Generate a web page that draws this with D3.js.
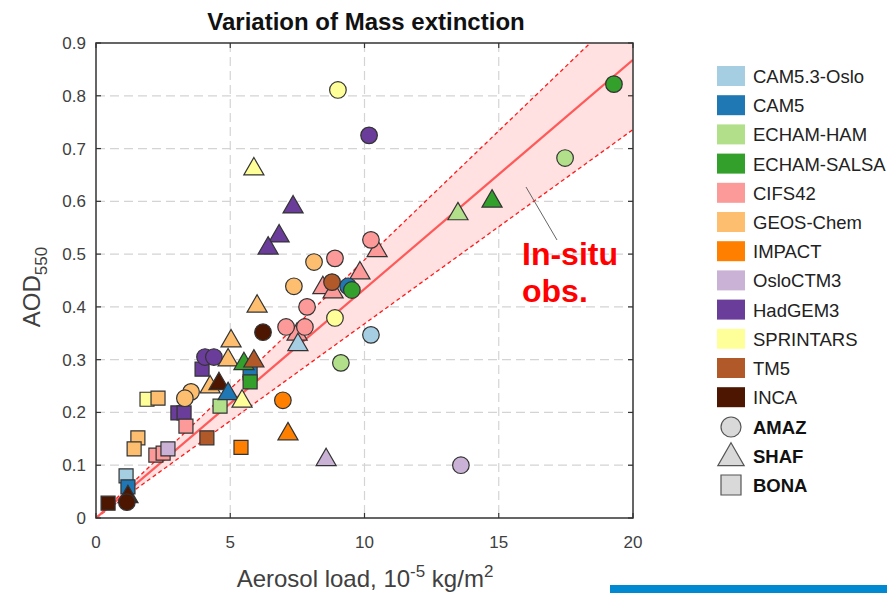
<!DOCTYPE html>
<html><head><meta charset="utf-8">
<script src="https://cdn.jsdelivr.net/npm/d3@7"></script>
<style>body{margin:0;background:#fff}svg{display:block;font-family:"Liberation Sans",Arial,sans-serif}</style>
</head><body>
<svg id="c" width="887" height="593"></svg>
<script>
const models = ["CAM5.3-Oslo","CAM5","ECHAM-HAM","ECHAM-SALSA","CIFS42","GEOS-Chem","IMPACT","OsloCTM3","HadGEM3","SPRINTARS","TM5","INCA"];
const modelColors = ["#a6cee3","#1f78b4","#b2df8a","#33a02c","#fb9a99","#fdbf6f","#ff7f00","#cab2d6","#6a3d9a","#ffff99","#b15928","#4d1600"];
const regions = ["AMAZ","SHAF","BONA"];
const xTicks = [0,5,10,15,20];
const yTicks = [0,0.1,0.2,0.3,0.4,0.5,0.6,0.7,0.8,0.9];
// slopes of in-situ observation fit (AOD per 10^-5 kg/m2): central, upper, lower
const obsSlope = [0.0434, 0.0489, 0.0368];

// [model, aerosol load, AOD]
const amaz = [
 ["SPRINTARS",9.01,0.811],["HadGEM3",10.17,0.725],["CIFS42",10.24,0.527],["GEOS-Chem",8.12,0.485],
 ["CIFS42",8.90,0.492],["TM5",8.79,0.447],["CAM5",9.39,0.439],["ECHAM-SALSA",9.53,0.432],
 ["GEOS-Chem",7.37,0.439],["CIFS42",7.86,0.400],["SPRINTARS",8.90,0.379],["INCA",6.22,0.352],
 ["CIFS42",7.08,0.362],["CIFS42",7.78,0.362],["CAM5.3-Oslo",10.24,0.347],["ECHAM-HAM",9.12,0.294],
 ["HadGEM3",4.06,0.305],["HadGEM3",4.39,0.305],["GEOS-Chem",3.54,0.239],["GEOS-Chem",3.31,0.227],
 ["IMPACT",6.96,0.223],["OsloCTM3",13.59,0.100],["ECHAM-HAM",17.47,0.682],["ECHAM-SALSA",19.29,0.822],
 ["INCA",1.15,0.030]
];
const shaf = [
 ["SPRINTARS",5.88,0.663],["HadGEM3",7.34,0.591],["HadGEM3",6.82,0.536],["HadGEM3",6.41,0.513],
 ["CIFS42",10.47,0.508],["CIFS42",9.83,0.466],["CIFS42",8.45,0.438],["CIFS42",8.83,0.430],
 ["CIFS42",7.49,0.350],["CAM5.3-Oslo",7.52,0.330],["GEOS-Chem",6.00,0.403],["GEOS-Chem",5.03,0.337],
 ["GEOS-Chem",4.92,0.301],["ECHAM-SALSA",5.51,0.294],["TM5",5.88,0.299],["GEOS-Chem",4.25,0.250],
 ["INCA",4.58,0.256],["CAM5",4.92,0.237],["SPRINTARS",5.44,0.223],["IMPACT",7.15,0.161],
 ["OsloCTM3",8.57,0.112],["ECHAM-SALSA",14.75,0.602],["ECHAM-HAM",13.48,0.578],["INCA",1.19,0.042]
];
const bona = [
 ["HadGEM3",3.95,0.282],["CAM5",5.74,0.275],["ECHAM-SALSA",5.74,0.258],["ECHAM-HAM",4.62,0.212],
 ["HadGEM3",3.05,0.199],["HadGEM3",3.28,0.199],["CIFS42",3.35,0.174],["SPRINTARS",1.90,0.225],
 ["GEOS-Chem",2.31,0.227],["GEOS-Chem",1.56,0.152],["GEOS-Chem",1.42,0.131],["CIFS42",2.23,0.119],
 ["CIFS42",2.50,0.123],["OsloCTM3",2.68,0.131],["TM5",4.13,0.152],["IMPACT",5.40,0.134],
 ["CAM5.3-Oslo",1.12,0.080],["CAM5",1.19,0.059],["INCA",0.45,0.028]
];

const svg = d3.select("#c");
const L = 96, T = 43, W = 537, H = 475;
const x = d3.scaleLinear().domain([0,20]).range([L, L+W]);
const y = d3.scaleLinear().domain([0,0.9]).range([T+H, T]);
const color = d3.scaleOrdinal().domain(models).range(modelColors);

svg.append("defs").append("clipPath").attr("id","clip")
  .append("rect").attr("x",L).attr("y",T).attr("width",W).attr("height",H);

// grid
const g = svg.append("g");
g.selectAll(".vg").data(xTicks.slice(1,-1)).join("line")
  .attr("x1",d=>x(d)).attr("x2",d=>x(d)).attr("y1",T).attr("y2",T+H)
  .attr("stroke","#d4d4d4").attr("stroke-width",1.2).attr("stroke-dasharray","9,5");
g.selectAll(".hg").data(yTicks.slice(1,-1)).join("line")
  .attr("y1",d=>y(d)).attr("y2",d=>y(d)).attr("x1",L).attr("x2",L+W)
  .attr("stroke","#d4d4d4").attr("stroke-width",1.2).attr("stroke-dasharray","9,5");

// obs band and lines
const band = svg.append("g").attr("clip-path","url(#clip)");
const xs = [0, 20];
band.append("path")
  .attr("d", d3.area().x(d=>x(d)).y0(d=>y(d*obsSlope[2])).y1(d=>y(d*obsSlope[1]))(xs))
  .attr("fill","#ffe1e1");
band.append("path").attr("d", d3.line().x(d=>x(d)).y(d=>y(d*obsSlope[1]))(xs))
  .attr("stroke","#ff1a1a").attr("stroke-width",1.3).attr("stroke-dasharray","4,3").attr("fill","none");
band.append("path").attr("d", d3.line().x(d=>x(d)).y(d=>y(d*obsSlope[2]))(xs))
  .attr("stroke","#ff1a1a").attr("stroke-width",1.3).attr("stroke-dasharray","4,3").attr("fill","none");
band.append("path").attr("d", d3.line().x(d=>x(d)).y(d=>y(d*obsSlope[0]))(xs))
  .attr("stroke","#ff5a5a").attr("stroke-width",2.2).attr("fill","none");

// markers
const mk = svg.append("g");
const sym = {
  AMAZ: d3.symbol().type(d3.symbolCircle).size(Math.PI*8.3*8.3),
  SHAF: d3.symbol().type(d3.symbolTriangle).size(175),
  BONA: d3.symbol().type(d3.symbolSquare).size(14*14)
};
function drawSet(data, reg, dy){
  mk.selectAll(null).data(data).join("path")
    .attr("d", sym[reg]())
    .attr("transform", d=>`translate(${x(d[1])},${y(d[2])+dy})`)
    .attr("fill", d=>color(d[0])).attr("stroke","#333").attr("stroke-width",1.2);
}
drawSet(bona,"BONA",0);
drawSet(shaf,"SHAF",1);
drawSet(amaz,"AMAZ",0);

// frame and ticks
svg.append("rect").attr("x",L).attr("y",T).attr("width",W).attr("height",H)
  .attr("fill","none").attr("stroke","#333").attr("stroke-width",1.5);
const tk = svg.append("g").attr("stroke","#333").attr("stroke-width",1.2);
xTicks.forEach(v=>{
  tk.append("line").attr("x1",x(v)).attr("x2",x(v)).attr("y1",T+H).attr("y2",T+H-5);
  tk.append("line").attr("x1",x(v)).attr("x2",x(v)).attr("y1",T).attr("y2",T+5);
});
yTicks.forEach(v=>{
  tk.append("line").attr("y1",y(v)).attr("y2",y(v)).attr("x1",L).attr("x2",L+5);
  tk.append("line").attr("y1",y(v)).attr("y2",y(v)).attr("x1",L+W).attr("x2",L+W-5);
});
svg.append("g").selectAll("text").data(xTicks).join("text")
  .attr("x",d=>x(d)).attr("y",548).attr("text-anchor","middle")
  .attr("font-size",17).attr("fill","#404040").text(d=>d);
svg.append("g").selectAll("text").data(yTicks).join("text")
  .attr("x",86).attr("y",d=>y(d)+6).attr("text-anchor","end")
  .attr("font-size",17).attr("fill","#404040").text(d=>d===0?"0":d3.format(".1f")(d));

// title & labels
svg.append("text").attr("x",366).attr("y",30).attr("text-anchor","middle")
  .attr("font-size",24).attr("font-weight","bold").attr("fill","#111").text("Variation of Mass extinction");
const xl = svg.append("text").attr("x",365).attr("y",587).attr("text-anchor","middle")
  .attr("font-size",24).attr("fill","#404040");
xl.append("tspan").text("Aerosol load, 10");
xl.append("tspan").attr("dy",-10).attr("font-size",17).text("-5");
xl.append("tspan").attr("dy",10).text(" kg/m");
xl.append("tspan").attr("dy",-10).attr("font-size",17).text("2");
const yl = svg.append("text").attr("transform","translate(40,287) rotate(-90)").attr("text-anchor","middle")
  .attr("font-size",24).attr("fill","#404040");
yl.append("tspan").text("AOD");
yl.append("tspan").attr("dy",7).attr("font-size",17).text("550");

// annotation
svg.append("line").attr("x1",526).attr("y1",187).attr("x2",557).attr("y2",240)
  .attr("stroke","#666").attr("stroke-width",1);
svg.append("text").attr("x",522).attr("y",265).attr("font-size",32).attr("font-weight","bold")
  .attr("fill","#ff0000").text("In-situ");
svg.append("text").attr("x",522).attr("y",302).attr("font-size",32).attr("font-weight","bold")
  .attr("fill","#ff0000").text("obs.");

// legend
const lg = svg.append("g");
const lgY = i => 76 + i*29.2;
lg.selectAll("rect").data(models).join("rect")
  .attr("x",717).attr("y",(d,i)=>lgY(i)-10).attr("width",28).attr("height",20)
  .attr("fill",d=>color(d));
lg.selectAll(".lt").data(models).join("text")
  .attr("x",753).attr("y",(d,i)=>lgY(i)+7).attr("font-size",18.5).attr("fill","#222").text(d=>d);
const shY = [427, 456, 485];
regions.forEach((r,i)=>{
  const s = r==="AMAZ" ? d3.symbol().type(d3.symbolCircle).size(Math.PI*10*10)
          : r==="SHAF" ? d3.symbol().type(d3.symbolTriangle).size(300)
          : d3.symbol().type(d3.symbolSquare).size(20*20);
  lg.append("path").attr("d",s()).attr("transform",`translate(731,${shY[i]+(r==="SHAF"?2:0)})`)
    .attr("fill","#d9d9d9").attr("stroke","#555").attr("stroke-width",1.2);
  lg.append("text").attr("x",753).attr("y",shY[i]+7).attr("font-size",18.5).attr("font-weight","bold")
    .attr("fill","#111").text(r);
});

// bottom bar
svg.append("rect").attr("x",610).attr("y",585).attr("width",277).attr("height",8).attr("fill","#0088d1");
</script>
</body></html>
